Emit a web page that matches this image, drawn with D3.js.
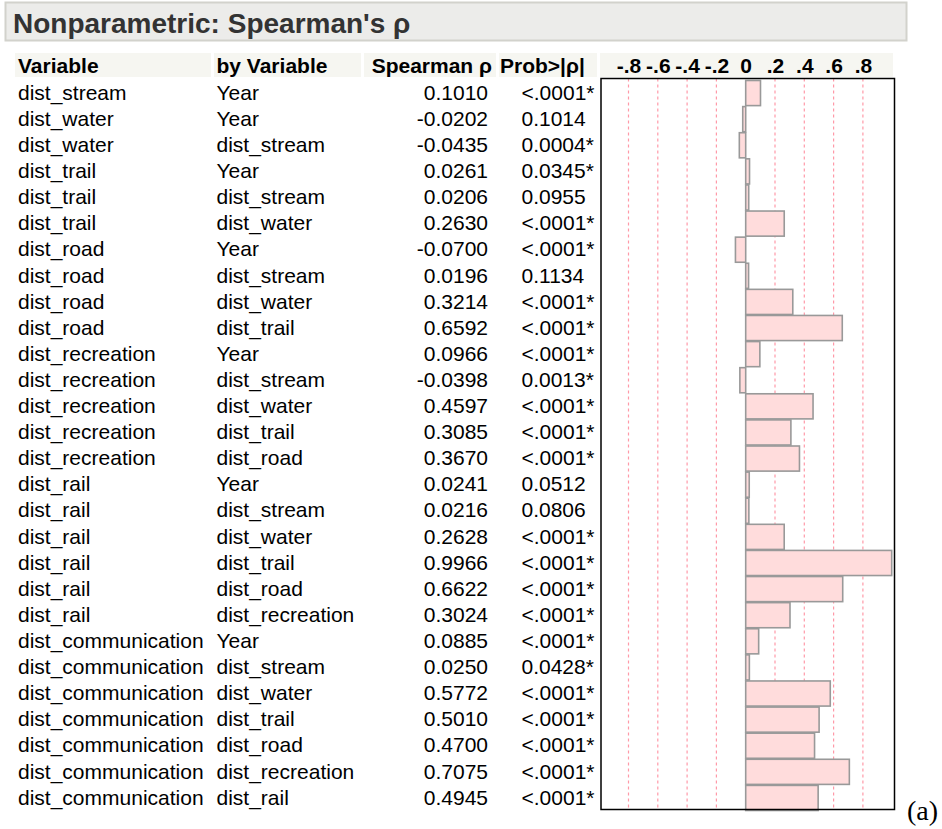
<!DOCTYPE html>
<html>
<head>
<meta charset="utf-8">
<script src="https://cdn.jsdelivr.net/npm/d3@7"></script>
<style>
  html, body { margin: 0; padding: 0; background: #fff; }
  svg { display: block; }
</style>
</head>
<body>
<svg id="chart" width="942" height="829"></svg>
<script>
// Spearman rank correlations between distance variables
const variables = [
  "dist_stream", "dist_water", "dist_water", "dist_trail", "dist_trail", "dist_trail",
  "dist_road", "dist_road", "dist_road", "dist_road",
  "dist_recreation", "dist_recreation", "dist_recreation", "dist_recreation", "dist_recreation",
  "dist_rail", "dist_rail", "dist_rail", "dist_rail", "dist_rail", "dist_rail",
  "dist_communication", "dist_communication", "dist_communication", "dist_communication",
  "dist_communication", "dist_communication", "dist_communication"
];
const byVariables = [
  "Year", "Year", "dist_stream", "Year", "dist_stream", "dist_water",
  "Year", "dist_stream", "dist_water", "dist_trail",
  "Year", "dist_stream", "dist_water", "dist_trail", "dist_road",
  "Year", "dist_stream", "dist_water", "dist_trail", "dist_road", "dist_recreation",
  "Year", "dist_stream", "dist_water", "dist_trail", "dist_road", "dist_recreation", "dist_rail"
];
const rho = [
  0.1010, -0.0202, -0.0435, 0.0261, 0.0206, 0.2630,
  -0.0700, 0.0196, 0.3214, 0.6592,
  0.0966, -0.0398, 0.4597, 0.3085, 0.3670,
  0.0241, 0.0216, 0.2628, 0.9966, 0.6622, 0.3024,
  0.0885, 0.0250, 0.5772, 0.5010, 0.4700, 0.7075, 0.4945
];
const prob = [
  "<.0001*", "0.1014", "0.0004*", "0.0345*", "0.0955", "<.0001*",
  "<.0001*", "0.1134", "<.0001*", "<.0001*",
  "<.0001*", "0.0013*", "<.0001*", "<.0001*", "<.0001*",
  "0.0512", "0.0806", "<.0001*", "<.0001*", "<.0001*", "<.0001*",
  "<.0001*", "0.0428*", "<.0001*", "<.0001*", "<.0001*", "<.0001*", "<.0001*"
];
const tickValues = [-0.8, -0.6, -0.4, -0.2, 0, 0.2, 0.4, 0.6, 0.8];
const tickLabels = ["-.8", "-.6", "-.4", "-.2", "0", ".2", ".4", ".6", ".8"];

const svg = d3.select("#chart");
const font = "'Liberation Sans', Arial, Helvetica, sans-serif";
const fs = 21;

// Title bar
svg.append("rect")
  .attr("x", 5.5).attr("y", 2.5).attr("width", 901).attr("height", 38)
  .attr("fill", "#ececea").attr("stroke", "#d2d2cc").attr("stroke-width", 2);
svg.append("text")
  .attr("x", 13).attr("y", 33)
  .attr("font-family", font).attr("font-weight", "bold").attr("font-size", 28)
  .attr("fill", "#333").text("Nonparametric: Spearman's ρ");

// Plot geometry
const rows = rho.length;
const plotTop = 78.5, plotBottom = 809.5;
const boxLeft = 601, boxRight = 894.5;
const x = d3.scaleLinear().domain([-1, 1]).range([599.2, 892.2]);
const y = d3.scaleBand().domain(d3.range(rows)).range([plotTop, plotBottom]).padding(0);

// Header cells
const headerTop = 53, headerH = 24;
const headerCells = [
  { x0: 15, x1: 211 }, { x0: 214, x1: 361 }, { x0: 364, x1: 496 },
  { x0: 499, x1: 597 }, { x0: 600, x1: 893 }
];
svg.append("g").selectAll("rect").data(headerCells).join("rect")
  .attr("x", d => d.x0).attr("y", headerTop)
  .attr("width", d => d.x1 - d.x0).attr("height", headerH)
  .attr("fill", "#f6f6f1");

const header = svg.append("g")
  .attr("font-family", font).attr("font-weight", "bold").attr("font-size", fs).attr("fill", "#000");
const headerY = 73.3;
header.append("text").attr("x", 18).attr("y", headerY).text("Variable");
header.append("text").attr("x", 216.5).attr("y", headerY).text("by Variable");
header.append("text").attr("x", 492).attr("y", headerY).attr("text-anchor", "end").text("Spearman ρ");
header.append("text").attr("x", 500).attr("y", headerY).text("Prob>|ρ|");

// Axis tick labels along the top
const axis = d3.axisTop(x).tickValues(tickValues).tickFormat((d, i) => tickLabels[i]).tickSize(0).tickPadding(0);
const axisG = svg.append("g").attr("transform", `translate(0,${headerY})`).call(axis);
axisG.select(".domain").remove();
axisG.selectAll("text")
  .attr("dy", 0).attr("y", 0)
  .attr("font-family", font).attr("font-weight", "bold").attr("font-size", fs).attr("fill", "#000");

// Grid lines
svg.append("g").selectAll("line").data(tickValues.filter(v => v !== 0)).join("line")
  .attr("x1", d => x(d)).attr("x2", d => x(d))
  .attr("y1", plotTop).attr("y2", plotBottom)
  .attr("stroke", "#ff99a8").attr("stroke-width", 1.2).attr("stroke-dasharray", "3,3");

// Bars
svg.append("g").selectAll("rect").data(rho).join("rect")
  .attr("x", d => x(Math.min(0, d)))
  .attr("y", (d, i) => y(i) + 2)
  .attr("width", d => Math.abs(x(d) - x(0)))
  .attr("height", y.bandwidth() - 1)
  .attr("fill", "#ffdcdc").attr("stroke", "#999").attr("stroke-width", 1.6);

// Plot frame
svg.append("rect")
  .attr("x", boxLeft).attr("y", plotTop).attr("width", boxRight - boxLeft).attr("height", plotBottom - plotTop)
  .attr("fill", "none").attr("stroke", "#000").attr("stroke-width", 1.5);

// Table body
const body = svg.append("g").attr("font-family", font).attr("font-size", fs).attr("fill", "#000");
const rowY = i => y(i) + y.bandwidth() / 2 + 8.2;
body.selectAll("text.var").data(variables).join("text").attr("class", "var")
  .attr("x", 18).attr("y", (d, i) => rowY(i)).text(d => d);
body.selectAll("text.by").data(byVariables).join("text").attr("class", "by")
  .attr("x", 216.5).attr("y", (d, i) => rowY(i)).text(d => d);
body.selectAll("text.rho").data(rho).join("text").attr("class", "rho")
  .attr("x", 488).attr("y", (d, i) => rowY(i)).attr("text-anchor", "end").text(d => d3.format(".4f")(d).replace("−", "-"));
body.selectAll("text.prob").data(prob).join("text").attr("class", "prob")
  .attr("x", 521.5).attr("y", (d, i) => rowY(i)).text(d => d);

// Panel tag
svg.append("text")
  .attr("x", 907).attr("y", 820)
  .attr("font-family", "'Liberation Serif', 'Times New Roman', serif").attr("font-size", 28)
  .attr("fill", "#000").text("(a)");
</script>
</body>
</html>
